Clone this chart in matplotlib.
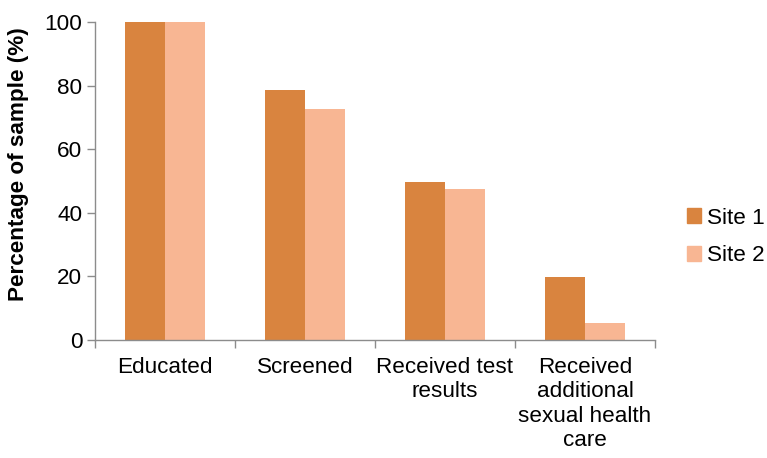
import matplotlib
matplotlib.use('Agg')
import matplotlib.pyplot as plt
import matplotlib.patches as mpatches
import numpy as np

# ── data ──────────────────────────────────────────────
categories = ['Educated', 'Screened', 'Received test\nresults',
              'Received\nadditional\nsexual health\ncare']
site1 = [100, 78.6, 49.8, 19.9]
site2 = [100, 72.7, 47.5, 5.2]
series_names = ['Site 1', 'Site 2']
colors = ['#D9843F', '#F8B693']
yticks = [0, 20, 40, 60, 80, 100]

plt.rcParams['font.family'] = ['Liberation Sans', 'DejaVu Sans']
FS = 16.2
GRAY = '#8c8c8c'

fig = plt.figure(figsize=(7.67, 4.58), dpi=100)
ax = fig.add_axes([95 / 767, 118 / 458, 560 / 767, 318 / 458])

x = np.arange(len(categories))
w = 40 / 140
ax.bar(x - w / 2, site1, width=w, color=colors[0], label=series_names[0])
ax.bar(x + w / 2, site2, width=w, color=colors[1], label=series_names[1])

ax.set_xlim(-0.5, len(categories) - 0.5)
ax.set_ylim(0, 100)
ax.set_yticks(yticks)
ax.set_yticklabels([str(t) for t in yticks], fontsize=FS)

# labels centred, ticks on category boundaries
ax.set_xticks(x)
ax.set_xticklabels(categories, fontsize=FS, linespacing=1.22, va='top')
ax.tick_params(axis='x', which='major', length=0, pad=12)
ax.set_xticks(np.arange(-0.5, len(categories)), minor=True)
ax.tick_params(axis='x', which='minor', length=6, width=1, color=GRAY)
ax.tick_params(axis='y', length=6, width=1, color=GRAY, pad=3)

for s in ['top', 'right']:
    ax.spines[s].set_visible(False)
for s in ['left', 'bottom']:
    ax.spines[s].set_color(GRAY)
    ax.spines[s].set_linewidth(1)

ax.set_ylabel('Percentage of sample (%)', fontsize=FS, fontweight='bold')
ax.yaxis.set_label_coords(-0.118, 0.553)

handles = [mpatches.Patch(color=c, label=n) for c, n in zip(colors, series_names)]
fig.legend(handles=handles, loc='center left', bbox_to_anchor=(687 / 767, 221 / 458),
           frameon=False, fontsize=FS, handlelength=0.6, handleheight=0.6,
           handletextpad=0.3, labelspacing=0.75, borderpad=0, borderaxespad=0)

fig.savefig('out.png', dpi=100)
